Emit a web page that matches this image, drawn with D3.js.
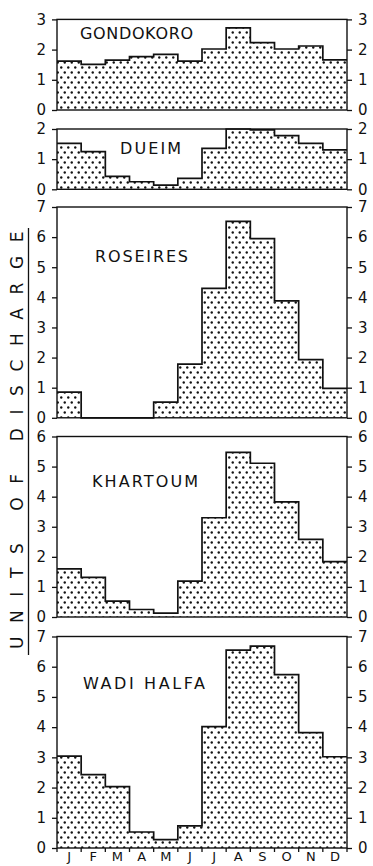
<!DOCTYPE html>
<html>
<head>
<meta charset="utf-8">
<script src="https://cdn.jsdelivr.net/npm/d3@7"></script>
<style>
  html, body { margin: 0; padding: 0; background: #fff; }
  svg { display: block; }
  text { font-family: "DejaVu Sans", sans-serif; fill: #111; }
</style>
</head>
<body>
<svg id="chart" width="373" height="866"></svg>
<script>
// Mean monthly discharge of the Nile at five stations
const months = ["Jan", "Feb", "Mar", "Apr", "May", "Jun", "Jul", "Aug", "Sep", "Oct", "Nov", "Dec"];
const monthLetters = ["J", "F", "M", "A", "M", "J", "J", "A", "S", "O", "N", "D"];
const stations = ["GONDOKORO", "DUEIM", "ROSEIRES", "KHARTOUM", "WADI HALFA"];

const gondokoro = [1.62, 1.51, 1.65, 1.77, 1.84, 1.62, 2.02, 2.72, 2.23, 2.02, 2.12, 1.66];
const dueim     = [1.52, 1.25, 0.43, 0.25, 0.14, 0.36, 1.36, 2.0, 1.97, 1.78, 1.52, 1.31];
const roseires  = [0.85, 0, 0, 0, 0.52, 1.78, 4.3, 6.52, 5.95, 3.88, 1.93, 0.98];
const khartoum  = [1.6, 1.32, 0.53, 0.25, 0.13, 1.19, 3.3, 5.47, 5.11, 3.83, 2.58, 1.84];
const wadiHalfa = [3.04, 2.43, 2.03, 0.53, 0.28, 0.73, 4.02, 6.55, 6.68, 5.74, 3.82, 3.02];

const axisMax = [3, 2, 7, 6, 7];
const series = [gondokoro, dueim, roseires, khartoum, wadiHalfa];
const yTitle = "UNITS OF DISCHARGE";

// panel frames: [top, bottom] in pixels
const frames = [[19.4, 110], [129, 189.3], [207, 417.8], [436.5, 617], [636.5, 848]];
// station label placement: [left x, middle y, width]
const labelPos = [[80, 33, 113], [120, 148, 61], [95, 256, 93], [92, 481.5, 106], [83, 683.5, 122]];

const svg = d3.select("#chart");
const X0 = 57, X1 = 347;

const x = d3.scaleBand().domain(months).range([X0, X1]).padding(0);

// stippled fill
const defs = svg.append("defs");
const pat = defs.append("pattern")
  .attr("id", "stipple")
  .attr("patternUnits", "userSpaceOnUse")
  .attr("width", 7).attr("height", 10);
pat.append("circle").attr("cx", 1.75).attr("cy", 2.5).attr("r", 1.2).attr("fill", "#111");
pat.append("circle").attr("cx", 5.25).attr("cy", 7.5).attr("r", 1.2).attr("fill", "#111");

stations.forEach((name, k) => {
  const values = series[k];
  const [top, bottom] = frames[k];
  const y = d3.scaleLinear().domain([0, axisMax[k]]).range([bottom, top]);
  const g = svg.append("g").attr("class", "panel");

  // bars
  g.selectAll("rect.bar")
    .data(values)
    .join("rect")
    .attr("class", "bar")
    .attr("x", (d, i) => x(months[i]))
    .attr("width", x.bandwidth() + 0.3)
    .attr("y", d => y(d))
    .attr("height", d => y(0) - y(d))
    .attr("fill", "url(#stipple)");

  // stepped outline of the bars
  const pts = values.map((v, i) => [x(months[i]), v]);
  pts.push([X1, values[values.length - 1]]);
  const step = d3.line()
    .x(d => d[0])
    .y(d => y(d[1]))
    .curve(d3.curveStepAfter);
  g.append("path")
    .attr("d", step(pts))
    .attr("fill", "none")
    .attr("stroke", "#111")
    .attr("stroke-width", 1.7);

  // frame
  g.append("rect")
    .attr("x", X0).attr("y", top)
    .attr("width", X1 - X0).attr("height", bottom - top)
    .attr("fill", "none")
    .attr("stroke", "#111")
    .attr("stroke-width", 1.4);

  // left and right axes
  const ticks = d3.range(0, axisMax[k] + 1);
  const left = d3.axisLeft(y).tickValues(ticks).tickSize(5).tickPadding(6).tickFormat(d3.format("d"));
  const right = d3.axisRight(y).tickValues(ticks).tickSize(5).tickPadding(6).tickFormat(d3.format("d"));
  [[left, X0], [right, X1]].forEach(([ax, px]) => {
    const a = g.append("g").attr("transform", `translate(${px},0)`).call(ax);
    a.select(".domain").remove();
    a.selectAll(".tick line").attr("stroke", "#111").attr("stroke-width", 1.3);
    a.selectAll(".tick text")
      .attr("font-size", 15)
      .attr("font-family", "DejaVu Sans, sans-serif")
      .attr("fill", "#111");
  });

  // station name
  const [lx, ly, lw] = labelPos[k];
  g.append("text")
    .attr("x", lx).attr("y", ly)
    .attr("dominant-baseline", "central")
    .attr("font-size", 16)
    .attr("textLength", lw)
    .attr("lengthAdjust", "spacing")
    .text(name);

  // month axis under the last panel
  if (k === stations.length - 1) {
    const bottomAxis = d3.axisBottom(x).tickSize(0).tickPadding(4)
      .tickFormat((d, i) => monthLetters[i]);
    const a = g.append("g").attr("transform", `translate(0,${bottom})`).call(bottomAxis);
    a.select(".domain").remove();
    a.selectAll(".tick text")
      .attr("font-size", 13)
      .attr("font-family", "DejaVu Sans, sans-serif")
      .attr("fill", "#111");
    g.selectAll("line.mtick")
      .data(d3.range(months.length + 1))
      .join("line")
      .attr("class", "mtick")
      .attr("x1", i => i < months.length ? x(months[i]) : X1)
      .attr("x2", i => i < months.length ? x(months[i]) : X1)
      .attr("y1", bottom).attr("y2", bottom + 4)
      .attr("stroke", "#111").attr("stroke-width", 1.3);
  }
});

// vertical axis title with rule beneath it
svg.append("text")
  .attr("transform", "translate(16.5,649) rotate(-90)")
  .attr("x", 0).attr("y", 0)
  .attr("dominant-baseline", "central")
  .attr("font-size", 17)
  .attr("letter-spacing", 13.6)
  .text(yTitle);
svg.append("line")
  .attr("x1", 28.5).attr("x2", 28.5)
  .attr("y1", 228).attr("y2", 655)
  .attr("stroke", "#111").attr("stroke-width", 1.3);
</script>
</body>
</html>
